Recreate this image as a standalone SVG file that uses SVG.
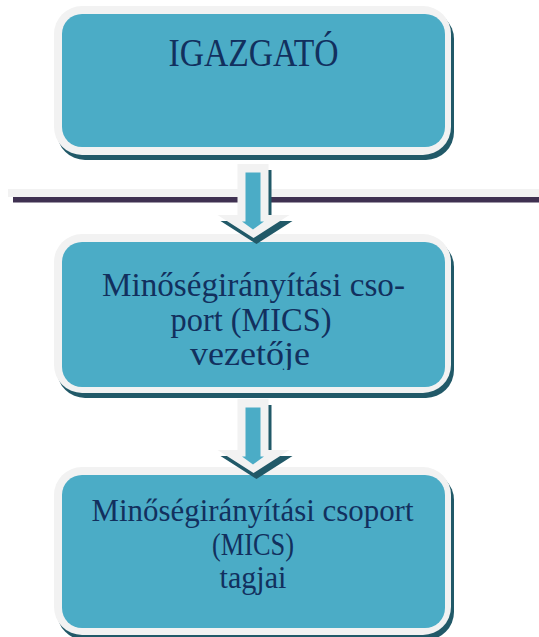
<svg xmlns="http://www.w3.org/2000/svg" width="539" height="637" viewBox="0 0 539 637">
  <style>
    .shadow { fill: #215968; }
    .ring { fill: #f2f2f2; }
    .body { fill: #4bacc6; }
    .label { font-family: "Liberation Serif", "Times New Roman", serif; fill: #12305e; text-anchor: middle; }
    .sepw { fill: #f2f2f2; }
    .sepd { fill: #3f3151; }
  </style>
  <defs>
    <clipPath id="clip2"><rect x="62" y="242" width="383" height="128"/></clipPath>
    <polygon id="arrowOuter" points="237.5,164 268.5,164 268.5,215 289.5,215 253.5,238 217.5,215 237.5,215"/>
    <polygon id="arrowInner" points="245.5,172.5 260.5,172.5 260.5,221.5 264,221.5 253,229.5 242,221.5 245.5,221.5"/>
  </defs>

  <g id="separator">
    <rect class="sepw" x="8" y="189" width="531" height="8"/>
    <rect class="sepd" x="13" y="197" width="526" height="5.5"/>
  </g>

  <g id="node-igazgato">
    <rect class="shadow" x="57" y="11" width="397" height="149" rx="28"/>
    <rect class="ring" x="54" y="6" width="397" height="149" rx="28"/>
    <rect class="body" x="62" y="14" width="383" height="133" rx="20"/>
    <text class="label" x="253.5" y="65.5" font-size="40" textLength="170" lengthAdjust="spacingAndGlyphs">IGAZGATÓ</text>
  </g>

  <g id="node-mics-vezeto">
    <rect class="shadow" x="57" y="239" width="397" height="159" rx="28"/>
    <rect class="ring" x="54" y="234" width="397" height="159" rx="28"/>
    <rect class="body" x="62" y="242" width="383" height="145" rx="20"/>
    <g clip-path="url(#clip2)">
      <text class="label" x="253.5" y="296" font-size="34" textLength="303" lengthAdjust="spacingAndGlyphs">Minőségirányítási cso-</text>
      <text class="label" x="251" y="331" font-size="34" textLength="161" lengthAdjust="spacingAndGlyphs">port (MICS)</text>
      <text class="label" x="250" y="365" font-size="34" textLength="120" lengthAdjust="spacingAndGlyphs">vezetője</text>
    </g>
  </g>

  <g id="node-mics-tagjai">
    <rect class="shadow" x="57" y="472" width="397" height="168" rx="28"/>
    <rect class="ring" x="54" y="467" width="397" height="168" rx="28"/>
    <rect class="body" x="62" y="475" width="383" height="153" rx="20"/>
    <text class="label" x="252.5" y="521" font-size="32" textLength="322" lengthAdjust="spacingAndGlyphs">Minőségirányítási csoport</text>
    <text class="label" x="253" y="555" font-size="32" textLength="82" lengthAdjust="spacingAndGlyphs">(MICS)</text>
    <text class="label" x="253" y="588" font-size="32" textLength="67" lengthAdjust="spacingAndGlyphs">tagjai</text>
  </g>

  <g id="connectors">
    <g id="arrow1">
      <use href="#arrowOuter" class="shadow" transform="translate(3,6)"/>
      <use href="#arrowOuter" class="ring"/>
      <use href="#arrowInner" class="body"/>
    </g>
    <g id="arrow2" transform="translate(0,235)">
      <use href="#arrowOuter" class="shadow" transform="translate(3,6)"/>
      <use href="#arrowOuter" class="ring"/>
      <use href="#arrowInner" class="body"/>
    </g>
  </g>
</svg>
